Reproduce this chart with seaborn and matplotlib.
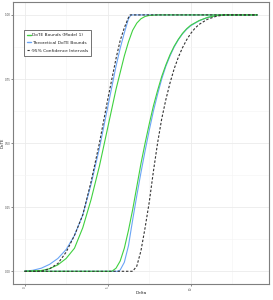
import numpy as np
import pandas as pd
import matplotlib
matplotlib.use("Agg")
import matplotlib.pyplot as plt
from matplotlib.lines import Line2D
from matplotlib.ticker import MultipleLocator
import seaborn as sns

# ---- data ----
left_blue_x = [0, 0.5, 1, 1.5, 2, 2.5, 3, 3.5, 4, 4.5, 5, 5.5, 5.75, 6, 6.25, 6.4, 7, 14]
left_blue_y = [0, 0.004, 0.012, 0.027, 0.05, 0.085, 0.14, 0.22, 0.34, 0.48, 0.64, 0.80, 0.87, 0.93, 0.985, 1.0, 1.0, 1.0]

left_ci_x = [0, 1, 1.5, 2, 2.5, 3, 3.5, 4, 4.5, 5, 5.5, 5.75, 6, 6.25, 6.35, 7, 14]
left_ci_y = [0, 0, 0.01, 0.03, 0.075, 0.14, 0.22, 0.35, 0.50, 0.67, 0.83, 0.90, 0.95, 0.99, 1.0, 1.0, 1.0]

left_green_x = [0, 1, 1.5, 2, 2.5, 3, 3.5, 4, 4.5, 5, 5.5, 6, 6.25, 6.5, 6.75, 7, 7.25, 7.5, 8, 14]
left_green_y = [0, 0.003, 0.01, 0.025, 0.05, 0.09, 0.17, 0.28, 0.41, 0.56, 0.71, 0.84, 0.895, 0.94, 0.968, 0.985, 0.994, 0.998, 1.0, 1.0]

right_green_x = [0, 5.25, 5.5, 5.75, 6, 6.25, 6.5, 6.75, 7, 7.25, 7.5, 7.75, 8, 8.25, 8.5, 8.75, 9, 9.25, 9.5, 9.75, 10, 10.5, 11, 11.5, 12, 14]
right_green_y = [0, 0, 0.012, 0.04, 0.09, 0.16, 0.24, 0.33, 0.42, 0.50, 0.575, 0.645, 0.705, 0.76, 0.805, 0.845, 0.878, 0.905, 0.928, 0.946, 0.96, 0.978, 0.99, 0.997, 1.0, 1.0]

right_blue_x = [0, 5.6, 5.75, 6, 6.25, 6.5, 6.75, 7, 7.25, 7.5, 7.75, 8, 8.25, 8.5, 8.75, 9, 9.25, 9.5, 9.75, 10, 10.5, 11, 11.5, 12, 14]
right_blue_y = [0, 0, 0.005, 0.035, 0.1, 0.2, 0.295, 0.385, 0.47, 0.55, 0.625, 0.69, 0.75, 0.80, 0.84, 0.875, 0.903, 0.926, 0.944, 0.958, 0.977, 0.99, 0.997, 1.0, 1.0]

right_ci_x = [0, 6.5, 6.75, 7, 7.25, 7.5, 7.75, 8, 8.25, 8.5, 8.75, 9, 9.25, 9.5, 9.75, 10, 10.25, 10.5, 11, 11.5, 12, 14]
right_ci_y = [0, 0, 0.02, 0.08, 0.17, 0.27, 0.39, 0.50, 0.595, 0.67, 0.735, 0.79, 0.835, 0.872, 0.903, 0.928, 0.948, 0.963, 0.983, 0.994, 1.0, 1.0]

x_ticks = [0, 5, 10]
y_ticks = [0.0, 0.25, 0.5, 0.75, 1.0]
y_tick_labels = ["0.00", "0.25", "0.50", "0.75", "1.00"]
legend_labels = ["DoTE Bounds (Model 1)", "Theoretical DoTE Bounds", "95% Confidence Intervals"]

GREEN = "#3fd13f"
BLUE = "#6aa5f5"
DARK = "#333333"

def frame(x, y, name):
    return pd.DataFrame({"Delta": x, "DoTE": y, "curve": name})

sns.set_theme(style="whitegrid")
plt.rcParams["font.family"] = ["DejaVu Sans"]

fig = plt.figure(figsize=(2.73, 3.0), dpi=100)
ax = fig.add_axes([0.0476, 0.053, 0.9374, 0.940])
ax.set_facecolor("white")

curves = [
    (left_blue_x, left_blue_y, BLUE, "-"),
    (right_blue_x, right_blue_y, BLUE, "-"),
    (left_green_x, left_green_y, GREEN, "-"),
    (right_green_x, right_green_y, GREEN, "-"),
    (left_ci_x, left_ci_y, DARK, (0, (2.2, 1.6))),
    (right_ci_x, right_ci_y, DARK, (0, (2.2, 1.6))),
]
for i, (xx, yy, col, ls) in enumerate(curves):
    d = frame(xx, yy, str(i))
    sns.lineplot(data=d, x="Delta", y="DoTE", ax=ax, color=col, linewidth=0.8,
                 linestyle=ls, estimator=None, sort=False, legend=False)

ax.set_xlim(-0.7, 14.7)
ax.set_ylim(-0.05, 1.05)
ax.set_xticks(x_ticks)
ax.set_xticklabels([str(t) for t in x_ticks])
ax.set_yticks(y_ticks)
ax.set_yticklabels(y_tick_labels)
ax.xaxis.set_minor_locator(MultipleLocator(2.5))
ax.yaxis.set_minor_locator(MultipleLocator(0.125))
ax.grid(which="major", color="#ebebeb", linewidth=0.6)
ax.grid(which="minor", color="#f4f4f4", linewidth=0.4)
ax.tick_params(axis="both", which="major", labelsize=2.0, labelcolor="#4d4d4d",
               length=1.2, width=0.4, color="#333333", pad=0.6, direction="out")
ax.tick_params(axis="both", which="minor", length=0)
ax.tick_params(axis="x", bottom=True, labelrotation=90)
ax.tick_params(axis="y", left=True)
for s in ax.spines.values():
    s.set_color("#7f7f7f")
    s.set_linewidth(0.8)
    s.set_visible(True)

ax.set_xlabel("Delta", fontsize=3.1)
ax.set_ylabel("DoTE", fontsize=2.9)
ax.xaxis.set_label_coords(0.5, -0.032)
ax.yaxis.set_label_coords(-0.042, 0.5)
ax.xaxis.label.set_va("center")
ax.yaxis.label.set_va("center")

handles = [
    Line2D([0], [0], color=GREEN, lw=1.0),
    Line2D([0], [0], color=BLUE, lw=1.0),
    Line2D([0], [0], color=DARK, lw=0.8, ls=(0, (2, 1.4))),
]
leg = ax.legend(handles, legend_labels, loc="upper left",
                bbox_to_anchor=(0.043, 0.900), fontsize=3.2, frameon=True,
                fancybox=False, handlelength=0.9, handletextpad=0.35,
                borderpad=0.6, labelspacing=0.85, borderaxespad=0)
leg.get_frame().set_edgecolor("#333333")
leg.get_frame().set_linewidth(0.6)
for t in leg.get_texts():
    t.set_color("#222222")

fig.savefig("out.png", dpi=100)
